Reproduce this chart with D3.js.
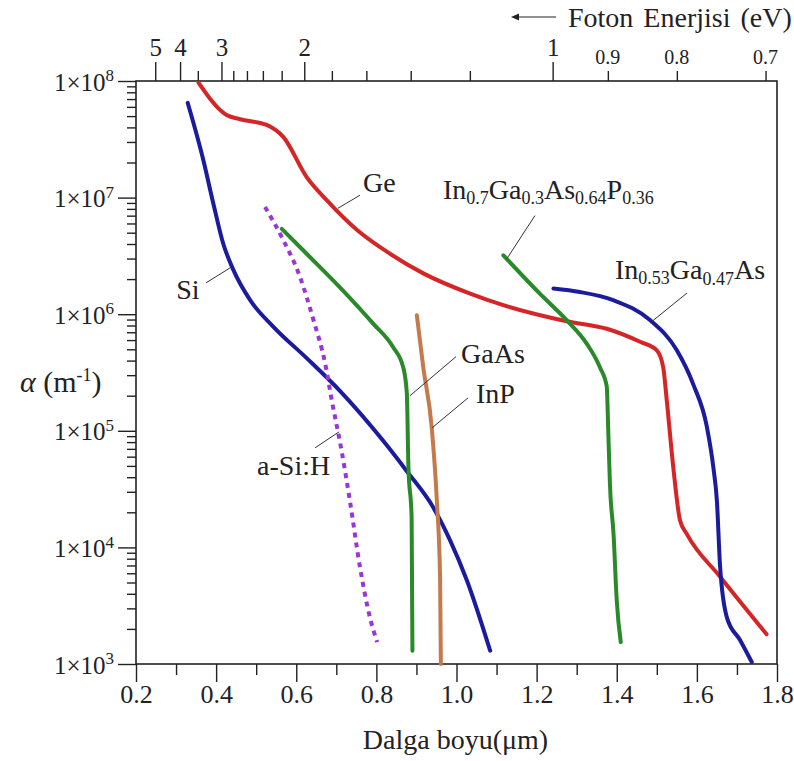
<!DOCTYPE html>
<html>
<head>
<meta charset="utf-8">
<script src="https://cdn.jsdelivr.net/npm/d3@7"></script>
<style>
  body { margin: 0; background: #fff; }
  svg { display: block; }
  text { font-family: "Liberation Serif", "Times New Roman", serif; fill: #222; }
</style>
</head>
<body>
<svg id="chart" width="794" height="761"></svg>
<script>
// Absorption coefficient alpha (1/m) against wavelength (um) for common photodetector materials.
const siLambda = [0.329, 0.368, 0.393, 0.418, 0.443, 0.485, 0.543, 0.626, 0.709, 0.817, 0.876, 0.942, 0.984, 1.026, 1.084];
const siAlpha  = [6.5e7, 2.1e7, 8.9e6, 4.0e6, 2.4e6, 1.32e6, 7.8e5, 4.2e5, 2.2e5, 8.2e4, 4.5e4, 2.2e4, 1.15e4, 5.2e3, 1.3e3];

const geLambda = [0.356, 0.426, 0.46, 0.526, 0.568, 0.626, 0.676, 0.751, 0.834, 0.916, 1.034, 1.115, 1.275, 1.375, 1.458, 1.500, 1.516, 1.525, 1.541, 1.558, 1.575, 1.658, 1.774];
const geAlpha  = [9.7e7, 5.1e7, 4.7e7, 4.2e7, 3.3e7, 1.5e7, 9.5e6, 5.3e6, 3.3e6, 2.25e6, 1.5e6, 1.2e6, 8.7e5, 7.5e5, 5.8e5, 4.9e5, 3.5e5, 1.8e5, 4.9e4, 1.7e4, 1.3e4, 5.6e3, 1.8e3];

const gaasLambda = [0.564, 0.626, 0.709, 0.792, 0.842, 0.867, 0.876, 0.880, 0.888, 0.890];
const gaasAlpha  = [5.4e6, 3.3e6, 1.7e6, 8.3e5, 5.2e5, 3.5e5, 2.1e5, 4.9e4, 1.8e4, 1.3e3];

const inpLambda = [0.901, 0.917, 0.938, 0.951, 0.959, 0.961];
const inpAlpha  = [9.8e5, 3.5e5, 1.08e5, 2.5e4, 5.6e3, 1.0e3];

const asihLambda = [0.522, 0.568, 0.609, 0.643, 0.672, 0.689, 0.713, 0.734, 0.759, 0.784, 0.802];
const asihAlpha  = [8.3e6, 4.3e6, 2.1e6, 8.9e5, 3.8e5, 1.8e5, 6.8e4, 2.5e4, 6.8e3, 2.5e3, 1.54e3];

const ingaaspLambda = [1.117, 1.208, 1.275, 1.325, 1.358, 1.375, 1.379, 1.383, 1.392, 1.400, 1.410];
const ingaaspAlpha  = [3.2e6, 1.5e6, 8.9e5, 5.6e5, 3.5e5, 2.4e5, 9.5e4, 3.5e4, 1.3e4, 3.5e3, 1.54e3];

const ingaasLambda = [1.242, 1.308, 1.391, 1.483, 1.550, 1.591, 1.625, 1.641, 1.650, 1.658, 1.675, 1.708, 1.737];
const ingaasAlpha  = [1.66e6, 1.55e6, 1.32e6, 8.9e5, 4.9e5, 2.5e5, 1.08e5, 4.9e4, 2.5e4, 6.8e3, 2.5e3, 1.6e3, 1.04e3];

// Axis ticks
const xMajorTicks = [0.2, 0.4, 0.6, 0.8, 1.0, 1.2, 1.4, 1.6, 1.8];
const xMinorTicks = [0.3, 0.5, 0.7, 0.9, 1.1, 1.3, 1.5, 1.7];
const yMajorTicks = [1e3, 1e4, 1e5, 1e6, 1e7, 1e8];
const energyMajorTicks = [5, 4, 3, 2, 1];
const energyMinorTicks = [3.5, 2.8, 2.6, 2.4, 2.2, 1.8, 1.6, 1.4, 1.2];
const energyLabelledMinorTicks = [0.9, 0.8, 0.7];
const HC = 1.24; // eV*um, photon energy <-> wavelength

const series = [
  { name: "Si",      lambda: siLambda,      alpha: siAlpha,      color: "#1b1b9e" },
  { name: "Ge",      lambda: geLambda,      alpha: geAlpha,      color: "#d42626" },
  { name: "GaAs",    lambda: gaasLambda,    alpha: gaasAlpha,    color: "#2a8a2a" },
  { name: "InP",     lambda: inpLambda,     alpha: inpAlpha,     color: "#c47a4c" },
  { name: "a-Si:H",  lambda: asihLambda,    alpha: asihAlpha,    color: "#9a36d6", dash: "5,5" },
  { name: "InGaAsP", lambda: ingaaspLambda, alpha: ingaaspAlpha, color: "#2a8a2a" },
  { name: "InGaAs",  lambda: ingaasLambda,  alpha: ingaasAlpha,  color: "#1b1b9e" }
];

// Curve labels: anchor on the curve (data units), leader end and text offsets (px)
const labels = [
  { parts: [["Ge"]], lambda: 0.704, alpha: 8.1e6, lead: [22, -13], text: [25, -16] },
  { parts: [["Si"]], lambda: 0.435, alpha: 2.5e6, lead: [-24, 15], text: [-54, 31] },
  { parts: [["In"], ["0.7", "sub"], ["Ga"], ["0.3", "sub"], ["As"], ["0.64", "sub"], ["P"], ["0.36", "sub"]],
    lambda: 1.126, alpha: 3.0e6, lead: [28, -43], text: [-64, -60] },
  { parts: [["In"], ["0.53", "sub"], ["Ga"], ["0.47", "sub"], ["As"]],
    lambda: 1.483, alpha: 8.4e5, lead: [37, -30], text: [-35, -44] },
  { parts: [["GaAs"]], lambda: 0.884, alpha: 2.0e5, lead: [46, -39], text: [51, -33] },
  { parts: [["InP"]], lambda: 0.939, alpha: 1.06e5, lead: [36, -30], text: [44, -25] },
  { parts: [["a-Si:H"]], lambda: 0.707, alpha: 9.8e4, lead: [-24, 16], text: [-82, 43] }
];

const svg = d3.select("#chart");
svg.append("rect").attr("width", 794).attr("height", 761).attr("fill", "#fff");

const margin = { left: 136, right: 777, top: 81, bottom: 664 };
const x = d3.scaleLinear().domain([0.2, 1.8]).range([margin.left, margin.right]);
const y = d3.scaleLog().domain([1e3, 1e8]).range([margin.bottom, margin.top]);

const axisColor = "#222";
const serif = "Liberation Serif, Times New Roman, serif";
function styleAxis(g) {
  g.select(".domain").remove();
  g.selectAll(".tick line").attr("stroke", axisColor).attr("stroke-width", 1.4);
}

// Bottom axis (wavelength)
svg.append("g").attr("transform", `translate(0,${margin.bottom})`)
  .call(d3.axisBottom(x).tickValues(xMinorTicks).tickSize(11).tickFormat(""))
  .call(styleAxis);
svg.append("g").attr("transform", `translate(0,${margin.bottom})`)
  .call(d3.axisBottom(x).tickValues(xMajorTicks).tickSize(18).tickPadding(3).tickFormat(d3.format(".1f")))
  .call(styleAxis)
  .call(g => g.selectAll("text").attr("font-size", 26).attr("font-family", serif).attr("fill", "#222"));

// Left axis (absorption coefficient, log)
const yMinorTicks = y.ticks().filter(v => !yMajorTicks.includes(v));
svg.append("g").attr("transform", `translate(${margin.left},0)`)
  .call(d3.axisLeft(y).tickValues(yMinorTicks).tickSize(9).tickFormat(""))
  .call(styleAxis);
const yAxisMajor = svg.append("g").attr("transform", `translate(${margin.left},0)`)
  .call(d3.axisLeft(y).tickValues(yMajorTicks).tickSize(18).tickFormat(""))
  .call(styleAxis);
yAxisMajor.selectAll(".tick").append("text")
  .attr("x", -22).attr("dy", "0.36em").attr("text-anchor", "end")
  .attr("font-size", 25).attr("font-family", serif).attr("fill", "#222")
  .each(function (d) {
    const t = d3.select(this);
    t.append("tspan").text("1\u00d710");
    t.append("tspan").attr("font-size", 17).attr("dy", "-0.55em").text(Math.round(Math.log10(d)));
  });

// Top axis (photon energy)
const energyToX = e => HC / e;
svg.append("g").attr("transform", `translate(0,${margin.top})`)
  .call(d3.axisTop(x).tickValues(energyMinorTicks.concat(energyLabelledMinorTicks).map(energyToX)).tickSize(10).tickFormat(""))
  .call(styleAxis);
svg.append("g").attr("transform", `translate(0,${margin.top})`)
  .call(d3.axisTop(x).tickValues(energyMajorTicks.map(energyToX)).tickSize(19).tickPadding(6)
    .tickFormat(v => d3.format("d")(Math.round(HC / v))))
  .call(styleAxis)
  .call(g => g.selectAll("text").attr("font-size", 25).attr("font-family", serif).attr("fill", "#222"));
svg.append("g").attr("transform", `translate(0,${margin.top})`)
  .selectAll("text").data(energyLabelledMinorTicks).join("text")
  .attr("x", e => x(energyToX(e))).attr("y", -17)
  .attr("text-anchor", "middle")
  .attr("font-family", "Liberation Sans, Arial, sans-serif").attr("font-size", 20).attr("fill", "#333")
  .text(e => d3.format(".1f")(e));

// Frame
svg.append("rect")
  .attr("x", margin.left).attr("y", margin.top)
  .attr("width", margin.right - margin.left).attr("height", margin.bottom - margin.top)
  .attr("fill", "none").attr("stroke", axisColor).attr("stroke-width", 1.6);

// Curves
const line = d3.line()
  .x(d => x(d[0]))
  .y(d => y(d[1]))
  .curve(d3.curveMonotoneX);

svg.append("g").selectAll("path").data(series).join("path")
  .attr("d", s => line(s.lambda.map((l, i) => [l, s.alpha[i]])))
  .attr("fill", "none")
  .attr("stroke", s => s.color)
  .attr("stroke-width", 4)
  .attr("stroke-linecap", s => s.dash ? "butt" : "round")
  .attr("stroke-linejoin", "round")
  .attr("stroke-dasharray", s => s.dash || null);

// Curve labels with leader lines
const labelG = svg.append("g");
labels.forEach(lb => {
  const ax = x(lb.lambda), ay = y(lb.alpha);
  labelG.append("line")
    .attr("x1", ax).attr("y1", ay)
    .attr("x2", ax + lb.lead[0]).attr("y2", ay + lb.lead[1])
    .attr("stroke", "#333").attr("stroke-width", 1);
  const t = labelG.append("text")
    .attr("x", ax + lb.text[0]).attr("y", ay + lb.text[1])
    .attr("font-size", 28).attr("font-family", serif);
  let shifted = false;
  lb.parts.forEach(([str, kind]) => {
    const ts = t.append("tspan").text(str);
    if (kind === "sub") {
      ts.attr("font-size", 18).attr("dy", shifted ? 0 : "0.3em");
      shifted = true;
    } else {
      ts.attr("dy", shifted ? "-0.19em" : 0);
      shifted = false;
    }
  });
});

// Axis titles
svg.append("text")
  .attr("x", (margin.left + margin.right) / 2 - 1).attr("y", 749)
  .attr("text-anchor", "middle").attr("font-size", 28).attr("font-family", serif)
  .text("Dalga boyu(\u03bcm)");

const yTitle = svg.append("text").attr("x", 20).attr("y", 392).attr("font-size", 30).attr("font-family", serif);
yTitle.append("tspan").attr("font-style", "italic").text("\u03b1");
yTitle.append("tspan").text(" (m");
yTitle.append("tspan").attr("font-size", 18).attr("dy", "-0.6em").text("-1");
yTitle.append("tspan").attr("dy", "0.36em").text(")");

// Photon energy title with arrow pointing to increasing energy
const arrowY = 17;
svg.append("line").attr("x1", 514).attr("x2", 556).attr("y1", arrowY).attr("y2", arrowY)
  .attr("stroke", "#222").attr("stroke-width", 1.2);
svg.append("path").attr("d", `M511,${arrowY} l8,-3.5 l0,7 z`).attr("fill", "#222");
svg.append("text").attr("x", 568).attr("y", 27).attr("font-size", 28).attr("font-family", serif)
  .attr("word-spacing", "3px")
  .text("Foton Enerjisi (eV)");
</script>
</body>
</html>
